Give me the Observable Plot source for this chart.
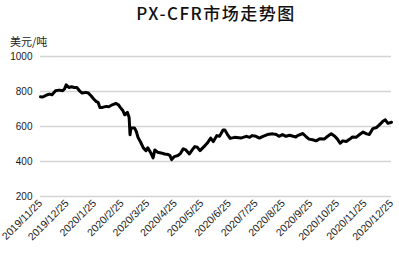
<!DOCTYPE html>
<html><head><meta charset="utf-8">
<script src="https://cdn.jsdelivr.net/npm/d3@7"></script>
<script src="https://cdn.jsdelivr.net/npm/@observablehq/plot@0.6"></script>
<style>
body{margin:0;background:#fff;}
#wrap{position:relative;width:399px;height:258px;overflow:hidden;font-family:"Noto Sans CJK SC","Noto Sans",sans-serif;}
#title{position:absolute;left:40px;top:2px;width:352px;text-align:center;font-size:17px;line-height:22px;letter-spacing:1.5px;color:#111;font-weight:500;}
#unit{position:absolute;left:10px;top:35px;font-size:11px;line-height:13px;color:#222;}
#chart{position:absolute;left:0;top:0;}
</style></head><body>
<div id="wrap"><div id="chart"></div><div id="title">PX-CFR市场走势图</div><div id="unit">美元/吨</div></div>
<script>
const dates = ["2019-11-25","2019-11-27","2019-11-29","2019-12-02","2019-12-05","2019-12-08","2019-12-12","2019-12-16","2019-12-20","2019-12-22","2019-12-24","2019-12-27","2019-12-30","2020-01-02","2020-01-05","2020-01-08","2020-01-11","2020-01-15","2020-01-18","2020-01-21","2020-01-24","2020-01-27","2020-01-29","2020-01-31","2020-02-03","2020-02-07","2020-02-10","2020-02-14","2020-02-18","2020-02-21","2020-02-23","2020-02-26","2020-02-28","2020-03-02","2020-03-04","2020-03-05","2020-03-06","2020-03-10","2020-03-12","2020-03-14","2020-03-17","2020-03-20","2020-03-23","2020-03-25","2020-03-28","2020-03-31","2020-04-02","2020-04-05","2020-04-09","2020-04-13","2020-04-17","2020-04-19","2020-04-21","2020-04-24","2020-04-28","2020-05-01","2020-05-04","2020-05-07","2020-05-11","2020-05-15","2020-05-17","2020-05-20","2020-05-23","2020-05-28","2020-05-31","2020-06-04","2020-06-07","2020-06-11","2020-06-14","2020-06-18","2020-06-20","2020-06-23","2020-06-26","2020-07-01","2020-07-08","2020-07-14","2020-07-18","2020-07-21","2020-07-25","2020-07-29","2020-08-02","2020-08-07","2020-08-13","2020-08-17","2020-08-20","2020-08-24","2020-08-28","2020-09-01","2020-09-05","2020-09-08","2020-09-10","2020-09-16","2020-09-20","2020-09-23","2020-09-27","2020-10-01","2020-10-05","2020-10-10","2020-10-14","2020-10-18","2020-10-22","2020-10-25","2020-10-28","2020-10-31","2020-11-04","2020-11-08","2020-11-11","2020-11-15","2020-11-19","2020-11-23","2020-11-27","2020-11-30","2020-12-04","2020-12-08","2020-12-11","2020-12-15","2020-12-18","2020-12-21","2020-12-25"];
const values = [770,768,772,780,785,781,804,808,804,814,838,823,827,823,823,804,791,795,791,776,757,742,738,709,709,715,713,724,732,724,709,690,667,681,652,553,592,592,573,538,510,478,462,478,453,421,466,453,449,443,440,434,411,428,434,447,472,466,443,472,485,481,462,488,504,534,514,548,544,580,580,554,532,538,534,544,538,548,544,534,544,554,558,554,544,554,544,550,544,540,548,560,540,528,524,518,530,528,544,558,544,528,504,518,514,528,540,538,554,568,558,554,588,594,608,628,638,618,624];
const yTicks = [200,400,600,800,1000];
const xTickLabels = ["2019/11/25","2019/12/25","2020/1/25","2020/2/25","2020/3/25","2020/4/25","2020/5/25","2020/6/25","2020/7/25","2020/8/25","2020/9/25","2020/10/25","2020/11/25","2020/12/25"];

const parseD = d3.utcParse("%Y-%m-%d");
const parseT = d3.utcParse("%Y/%m/%d");
const data = dates.map((d, i) => ({date: parseD(d), value: values[i]}));
const xTicks = xTickLabels.map(parseT);

const chart = Plot.plot({
  width: 399,
  height: 258,
  marginTop: 56,
  marginBottom: 62,
  marginLeft: 40,
  marginRight: 8,
  style: {fontFamily: "'Liberation Sans', Arial, sans-serif", fontSize: "10px", color: "#1a1a1a", background: "#fff"},
  x: {type: "utc", domain: [xTicks[0], xTicks[xTicks.length - 1]]},
  y: {domain: [200, 1000]},
  marks: [
    Plot.gridY(yTicks, {stroke: "#d4d4d4", strokeOpacity: 1, strokeWidth: 1.5}),
    Plot.axisY(yTicks, {tickSize: 0, tickPadding: 8, tickFormat: d3.format("d"), label: null, fontSize: 10}),
    Plot.axisX(xTicks, {tickFormat: d3.utcFormat("%Y/%-m/%-d"), tickRotate: -45, tickSize: 0, tickPadding: 5, label: null, fontSize: 10.5}),
    Plot.lineY(data, {x: "date", y: "value", stroke: "#000", strokeWidth: 3, strokeLinejoin: "round", strokeLinecap: "round"})
  ]
});
document.getElementById("chart").appendChild(chart);
</script>
</body></html>
